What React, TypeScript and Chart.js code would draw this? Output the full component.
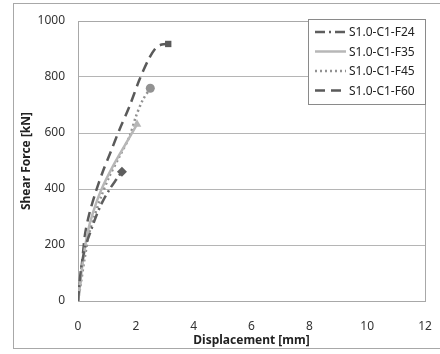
import { useEffect, useRef } from "react";
import { Chart, registerables } from "chart.js";

Chart.register(...registerables);

const SERIES_NAMES = ["S1.0-C1-F24", "S1.0-C1-F35", "S1.0-C1-F45", "S1.0-C1-F60"];

const F24_DISP = [0, 0.1, 0.25, 0.39, 0.62, 0.85, 1.1, 1.31, 1.52];
const F24_FORCE = [0, 111, 194, 235, 301, 355, 400, 432, 462];

const F35_DISP = [0, 0.05, 0.16, 0.33, 0.51, 0.8, 1.2, 1.66, 2.04];
const F35_FORCE = [0, 39, 135, 243, 313, 396, 480, 563, 631];

const F45_DISP = [0, 0.1, 0.22, 0.39, 0.56, 0.8, 1.08, 1.43, 1.78, 2.0, 2.24, 2.5];
const F45_FORCE = [0, 64, 146, 243, 301, 373, 444, 515, 587, 658, 718, 760];

const F60_DISP = [0, 0.07, 0.16, 0.25, 0.4, 0.6, 0.85, 1.14, 1.43, 1.78, 2.12, 2.45, 2.7, 2.9, 3.12];
const F60_FORCE = [0, 64, 158, 243, 315, 385, 460, 535, 611, 695, 789, 865, 905, 916, 918];

const X_TICKS = [0, 2, 4, 6, 8, 10, 12];
const Y_TICKS = [0, 200, 400, 600, 800, 1000];

const COLORS = ["#5e5e5e", "#b7b7b7", "#929292", "#5a5a5a"];
const DASHES = [[10, 4, 2, 4], [], [2, 3], [10, 6]];
const POINT_STYLES = ["rectRot", "triangle", "circle", "rect"];
const POINT_SIZES = [5, 5, 4.5, 4.5];

function toPoints(xs: number[], ys: number[]) {
  return xs.map((x, i) => ({ x, y: ys[i] }));
}

const SERIES = [
  toPoints(F24_DISP, F24_FORCE),
  toPoints(F35_DISP, F35_FORCE),
  toPoints(F45_DISP, F45_FORCE),
  toPoints(F60_DISP, F60_FORCE),
];

const framePlugin = {
  id: "frame",
  beforeDraw(chart: any) {
    const { ctx } = chart;
    ctx.save();
    ctx.fillStyle = "#ffffff";
    ctx.fillRect(0, 0, chart.width, chart.height);
    ctx.strokeStyle = "#a8a8a8";
    ctx.lineWidth = 1;
    ctx.strokeRect(13.5, 3.5, chart.width + 20, 345);
    ctx.restore();
  },
  beforeDatasetsDraw(chart: any) {
    const { ctx, chartArea } = chart;
    ctx.save();
    ctx.strokeStyle = "#a8a8a8";
    ctx.lineWidth = 1;
    ctx.strokeRect(
      Math.round(chartArea.left) + 0.5,
      Math.round(chartArea.top) + 0.5,
      Math.round(chartArea.right - chartArea.left),
      Math.round(chartArea.bottom - chartArea.top)
    );
    ctx.restore();
  },
};

const legendBoxPlugin = {
  id: "legendBox",
  afterDraw(chart: any) {
    const { ctx } = chart;
    ctx.save();
    const x0 = 308.5;
    const y0 = 19.5;
    const w = 117;
    const h = 85;
    ctx.fillStyle = "#ffffff";
    ctx.fillRect(x0, y0, w, h);
    ctx.strokeStyle = "#8a8a8a";
    ctx.lineWidth = 1;
    ctx.strokeRect(x0, y0, w, h);
    chart.data.datasets.forEach((ds: any, i: number) => {
      const y = 32 + i * 19.5;
      ctx.beginPath();
      ctx.setLineDash(ds.borderDash || []);
      ctx.strokeStyle = ds.borderColor;
      ctx.lineWidth = ds.borderWidth;
      ctx.moveTo(315, y);
      ctx.lineTo(346, y);
      ctx.stroke();
      ctx.setLineDash([]);
      ctx.fillStyle = "#222222";
      ctx.font = '12px "Noto Sans"';
      ctx.textBaseline = "middle";
      ctx.textAlign = "left";
      ctx.fillText(ds.label, 349, y + 1);
    });
    ctx.restore();
  },
};

export default function App() {
  const canvasRef = useRef<HTMLCanvasElement | null>(null);

  useEffect(() => {
    const canvas = canvasRef.current;
    if (!canvas) return;
    const chart = new Chart(canvas, {
      type: "scatter",
      data: {
        datasets: SERIES.map((pts, i) => ({
          label: SERIES_NAMES[i],
          data: pts,
          showLine: true,
          borderColor: COLORS[i],
          backgroundColor: COLORS[i],
          borderWidth: 2.5,
          borderDash: DASHES[i],
          tension: 0.3,
          pointStyle: POINT_STYLES[i],
          pointRadius: (c: any) => (c.dataIndex === pts.length - 1 ? POINT_SIZES[i] : 0),
          pointBorderWidth: 0,
          pointHoverRadius: 0,
        })),
      },
      options: {
        animation: false,
        responsive: false,
        layout: { padding: { left: 0, top: 21, right: 15, bottom: 0 } },
        plugins: {
          legend: { display: false },
          tooltip: { enabled: false },
        },
        scales: {
          x: {
            type: "linear",
            min: 0,
            max: 12,
            afterBuildTicks: (scale: any) => {
              scale.ticks = X_TICKS.map((v) => ({ value: v }));
            },
            afterFit: (scale: any) => {
              scale.height = 53;
              scale.paddingLeft = 0;
              scale.paddingRight = 0;
            },
            grid: { display: false, drawTicks: false },
            border: { display: true, color: "#a8a8a8" },
            ticks: {
              padding: 18,
              color: "#333333",
              font: { family: "Noto Sans", size: 12 },
              callback: (v: any) => String(v),
            },
            title: {
              display: true,
              text: "Displacement [mm]",
              color: "#222222",
              font: { family: "Noto Sans", size: 12, weight: "bold" },
              padding: { top: 0, bottom: 6 },
            },
          },
          y: {
            type: "linear",
            min: 0,
            max: 1000,
            afterBuildTicks: (scale: any) => {
              scale.ticks = Y_TICKS.map((v) => ({ value: v }));
            },
            afterFit: (scale: any) => {
              scale.width = 78;
            },
            grid: { color: "#b5b5b5", drawTicks: false, lineWidth: 1 },
            border: { display: true, color: "#a8a8a8" },
            ticks: {
              padding: 13,
              color: "#333333",
              font: { family: "Noto Sans", size: 12 },
              callback: (v: any) => String(v),
            },
            title: {
              display: true,
              text: "Shear Force [kN]",
              color: "#222222",
              font: { family: "Noto Sans", size: 12, weight: "bold" },
              padding: { top: 19, bottom: 0 },
            },
          },
        },
      },
      plugins: [framePlugin, legendBoxPlugin],
    } as any);
    return () => chart.destroy();
  }, []);

  return (
    <div
      style={{
        position: "fixed",
        left: 0,
        top: 0,
        width: 440,
        height: 354,
        background: "#ffffff",
      }}
    >
      <canvas ref={canvasRef} width={440} height={354} style={{ width: 440, height: 354, display: "block" }} />
    </div>
  );
}
